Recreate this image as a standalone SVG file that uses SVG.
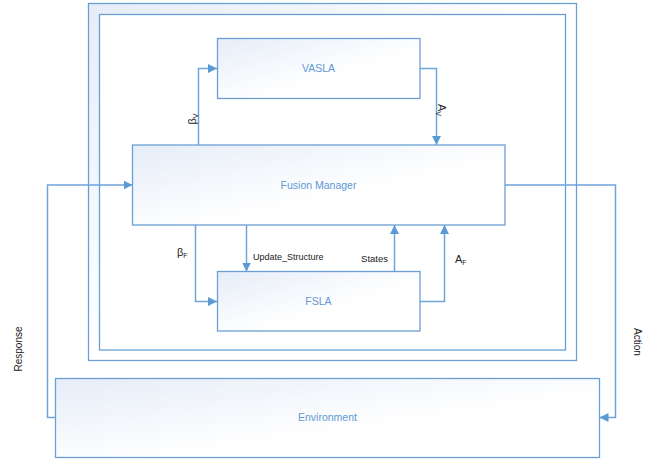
<svg xmlns="http://www.w3.org/2000/svg" width="665" height="462" viewBox="0 0 665 462">
<defs>
<linearGradient id="g" x1="0" y1="0" x2="1" y2="1">
<stop offset="0" stop-color="#e6edf8"/>
<stop offset="0.6" stop-color="#ffffff"/>
</linearGradient>
<linearGradient id="g2" x1="0" y1="0" x2="0.5" y2="0.5">
<stop offset="0" stop-color="#e6edf8"/>
<stop offset="1" stop-color="#ffffff"/>
</linearGradient>
<marker id="ah" viewBox="0 0 10 10" refX="10" refY="5" markerWidth="9" markerHeight="9" markerUnits="userSpaceOnUse" orient="auto">
<path d="M0,0 L10,5 L0,10 z" fill="#5b9bd5"/>
</marker>
</defs>
<style>
.box{fill:url(#g);stroke:#6a9fd6;stroke-width:1.3}
.lbl{font-family:"Liberation Sans",Arial,sans-serif;font-size:10.5px;fill:#5f98d4;text-anchor:middle}
.t{font-family:"Liberation Sans",Arial,sans-serif;fill:#222}
.g{font-size:11px}
.s{font-size:7px}
.c{fill:none;stroke:#6fa3da;stroke-width:1.5}
</style>
<rect width="665" height="462" fill="#ffffff"/>
<g id="frame">
<rect x="88.5" y="3.5" width="488" height="357" fill="url(#g2)" stroke="#6a9fd6" stroke-width="1.3"/>
<rect x="99.5" y="14.5" width="466" height="335.5" fill="#ffffff" stroke="#6a9fd6" stroke-width="1.3"/>
</g>
<g id="vasla">
<rect class="box" x="217.5" y="38.5" width="202.5" height="60"/>
<text class="lbl" x="318.5" y="72">VASLA</text>
</g>
<g id="fusion">
<rect class="box" x="132.5" y="145" width="372.5" height="80"/>
<text class="lbl" x="318.5" y="189">Fusion Manager</text>
</g>
<g id="fsla">
<rect class="box" x="217.5" y="271.5" width="202.5" height="59.5"/>
<text class="lbl" x="318.5" y="305">FSLA</text>
</g>
<g id="environment">
<rect class="box" x="55.5" y="378.5" width="544" height="79"/>
<text class="lbl" x="327.5" y="421">Environment</text>
</g>
<g id="connectors">
<polyline class="c" points="198.5,145 198.5,68.5 217,68.5" marker-end="url(#ah)"/>
<polyline class="c" points="420,68.5 436.5,68.5 436.5,145" marker-end="url(#ah)"/>
<polyline class="c" points="195.5,225 195.5,301.5 217,301.5" marker-end="url(#ah)"/>
<polyline class="c" points="246.5,225 246.5,271.5" marker-end="url(#ah)"/>
<polyline class="c" points="394.5,271.5 394.5,225" marker-end="url(#ah)"/>
<polyline class="c" points="420,301.5 444.5,301.5 444.5,225" marker-end="url(#ah)"/>
<polyline class="c" points="55.5,417.5 47.5,417.5 47.5,185 132.5,185" marker-end="url(#ah)"/>
<polyline class="c" points="505,185 615.5,185 615.5,417.5 599.5,417.5" marker-end="url(#ah)"/>
<text class="t g" transform="translate(196,119) rotate(-90)" text-anchor="middle">β<tspan class="s" dy="2">V</tspan></text>
<text class="t g" transform="translate(438,110) rotate(90)" text-anchor="middle">A<tspan class="s" dy="2">V</tspan></text>
<text class="t g" x="177" y="256">β<tspan class="s" dy="2">F</tspan></text>
<text class="t g" x="455" y="263">A<tspan class="s" dy="2">F</tspan></text>
<text class="t" x="253" y="260" style="font-size:9px">Update_Structure</text>
<text class="t" x="388" y="262" text-anchor="end" style="font-size:9.5px">States</text>
<text class="t" transform="translate(22,349) rotate(-90)" text-anchor="middle" style="font-size:10px">Response</text>
<text class="t" transform="translate(634,342) rotate(90)" text-anchor="middle" style="font-size:10px">Action</text>
</g>
</svg>
